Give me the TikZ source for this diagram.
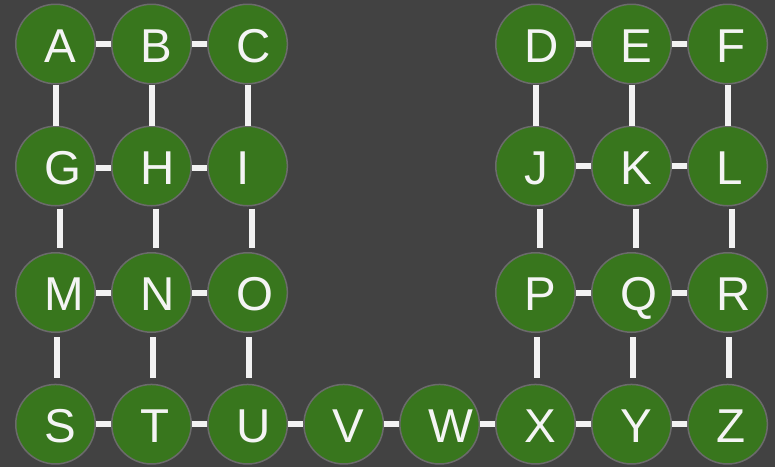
\documentclass[tikz,border=0pt]{standalone}
\usepackage{fontspec}
\setmainfont{Liberation Sans}
\definecolor{bg}{HTML}{424242}
\definecolor{nodegreen}{HTML}{38761D}
\definecolor{nodeborder}{HTML}{6B6B6B}
\definecolor{edgewhite}{HTML}{F2F2F2}
\definecolor{txt}{HTML}{F4F4F4}
\newcommand{\vlabel}[1]{\makebox[0pt][l]{\kern-11.5pt #1}}
\tikzset{
  vert/.style={circle, fill=nodegreen, draw=nodeborder, line width=1.5pt,
    minimum size=79.5pt, inner sep=0pt, text=txt, text height=36pt, text depth=0pt,
    font=\fontsize{47.5}{47.5}\selectfont},
  edge/.style={draw=edgewhite, line width=6pt}
}
\begin{document}
\begin{tikzpicture}[x=1pt,y=-1pt]
\fill[bg] (0,0) rectangle (775,467);
\useasboundingbox (0,0) rectangle (775,467);
\def\cA{55.5}\def\cB{151.5}\def\cC{247.6}\def\cD{343.7}\def\cE{439.6}\def\cF{535.5}\def\cG{631.5}\def\cH{727.6}
\def\rA{44}\def\rB{166}\def\rC{292.5}\def\rD{424.2}
\node[vert] (A) at (\cA,\rA) {\vlabel{A}};
\node[vert] (B) at (\cB,\rA) {\vlabel{B}};
\node[vert] (C) at (\cC,\rA) {\vlabel{C}};
\node[vert] (D) at (\cF,\rA) {\vlabel{D}};
\node[vert] (E) at (\cG,\rA) {\vlabel{E}};
\node[vert] (F) at (\cH,\rA) {\vlabel{F}};
\node[vert] (G) at (\cA,\rB) {\vlabel{G}};
\node[vert] (H) at (\cB,\rB) {\vlabel{H}};
\node[vert] (I) at (\cC,\rB) {\vlabel{I}};
\node[vert] (J) at (\cF,\rB) {\vlabel{J}};
\node[vert] (K) at (\cG,\rB) {\vlabel{K}};
\node[vert] (L) at (\cH,\rB) {\vlabel{L}};
\node[vert] (M) at (\cA,\rC) {\vlabel{M}};
\node[vert] (N) at (\cB,\rC) {\vlabel{N}};
\node[vert] (O) at (\cC,\rC) {\vlabel{O}};
\node[vert] (P) at (\cF,\rC) {\vlabel{P}};
\node[vert] (Q) at (\cG,\rC) {\vlabel{Q}};
\node[vert] (R) at (\cH,\rC) {\vlabel{R}};
\node[vert] (S) at (\cA,\rD) {\vlabel{S}};
\node[vert] (T) at (\cB,\rD) {\vlabel{T}};
\node[vert] (U) at (\cC,\rD) {\vlabel{U}};
\node[vert] (V) at (\cD,\rD) {\vlabel{V}};
\node[vert] (W) at (\cE,\rD) {\vlabel{W}};
\node[vert] (X) at (\cF,\rD) {\vlabel{X}};
\node[vert] (Y) at (\cG,\rD) {\vlabel{Y}};
\node[vert] (Z) at (\cH,\rD) {\vlabel{Z}};
% horizontal edges
\foreach \a/\b in {A/B,B/C,D/E,E/F,J/K,K/L,M/N,N/O,P/Q,Q/R,S/T,T/U,U/V,V/W,W/X,X/Y,Y/Z}
  \draw[edge] (\a.east) -- (\b.west);
\foreach \a/\b in {G/H,H/I}
  \draw[edge] ([yshift=-2pt]\a.east) -- ([yshift=-2pt]\b.west);
% vertical edges, row 1-2
\foreach \a/\b in {A/G,B/H,C/I,D/J,E/K,F/L}
  \draw[edge] (\a.south) -- (\b.north);
% row 2-3
\foreach \a/\b in {G/M,H/N,I/O,J/P,K/Q,L/R}
  \draw[edge, shorten <=2pt, shorten >=4pt] ([xshift=4pt]\a.south) -- ([xshift=4pt]\b.north);
% row 3-4
\foreach \a/\b in {M/S,N/T,O/U,P/X,Q/Y,R/Z}
  \draw[edge, shorten <=4pt, shorten >=6pt] ([xshift=1pt]\a.south) -- ([xshift=1pt]\b.north);
\end{tikzpicture}
\end{document}
